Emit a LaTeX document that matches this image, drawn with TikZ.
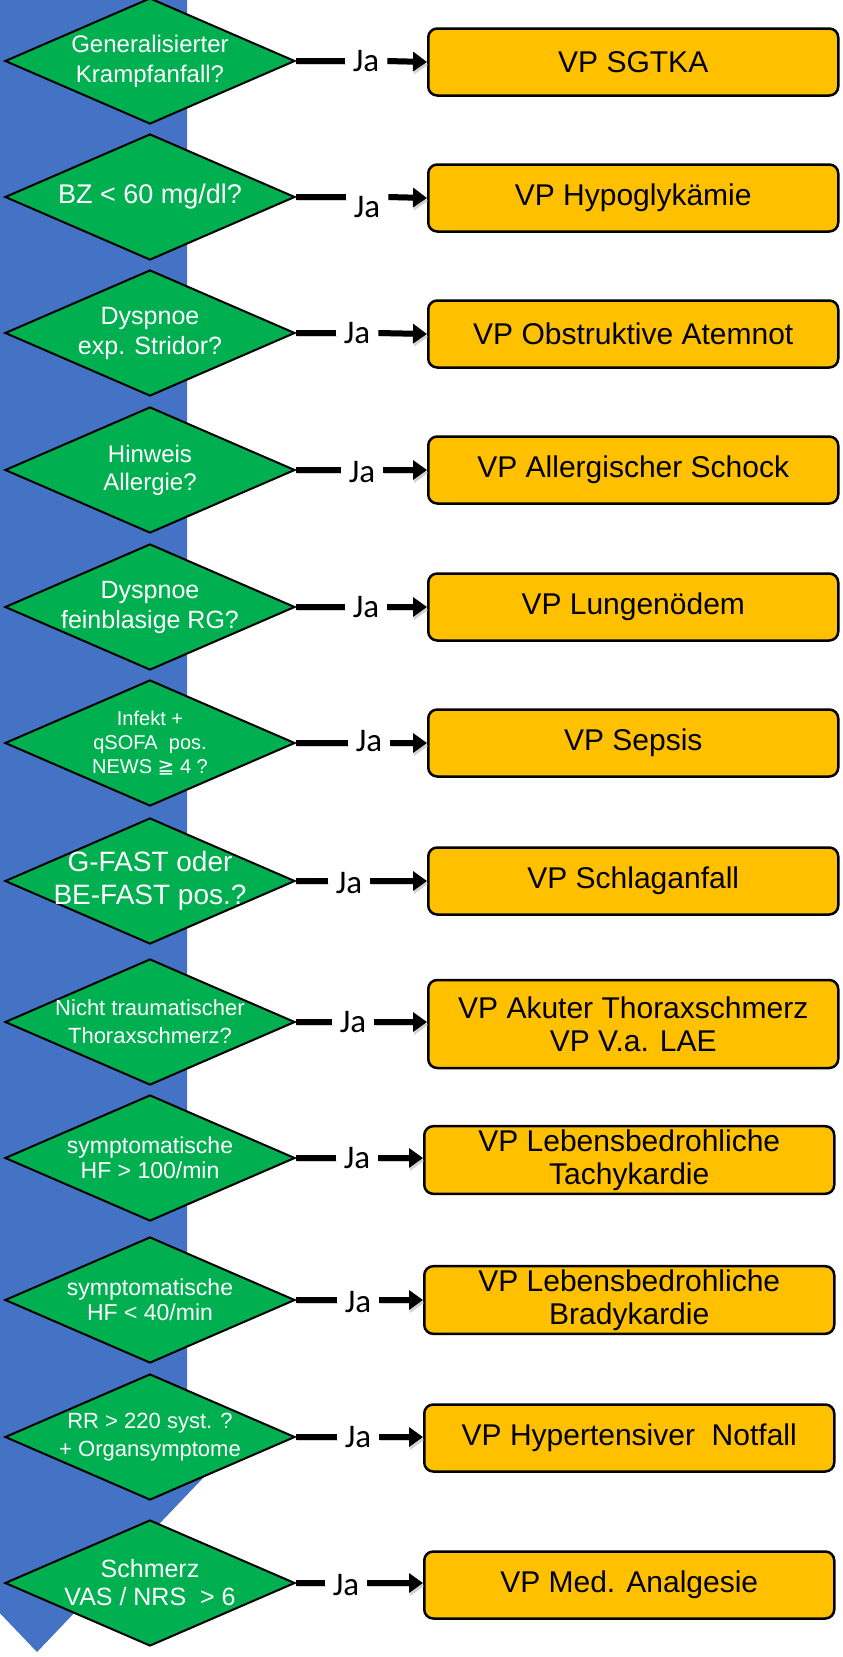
\documentclass[tikz,border=0pt]{standalone}
\usepackage{fontspec}
\setmainfont{Liberation Sans}
\newfontfamily\jafont{Carlito}
\newfontfamily\geqfont{DejaVu Sans}
\usetikzlibrary{positioning, shapes.geometric, arrows.meta}
\definecolor{bandblue}{HTML}{4472C4}
\definecolor{decgreen}{HTML}{00B050}
\definecolor{vpgold}{HTML}{FFC000}

\begin{document}
\begin{tikzpicture}[
        x=1pt, y=-1pt,
        % Styles
        band/.style={fill=bandblue},
        decision/.style={diamond, draw, line width=2pt, fill=decgreen, minimum width=290pt, minimum height=126pt, inner sep=0pt},
        dtext/.style={text=white, align=center, font=\fontsize{24}{29}\selectfont, inner sep=0pt},
        vp/.style={draw, line width=2.5pt, rounded corners=9pt, fill=vpgold, minimum width=410pt, minimum height=67pt, anchor=west, align=center, font=\fontsize{30}{33}\selectfont},
        ja/.style={font=\jafont\fontsize{33}{35}\selectfont, inner xsep=8pt, inner ysep=0pt},
        jaline/.style={line width=6pt, preaction={draw=black!18, transform canvas={shift={(1pt,-3pt)}}}},
        jaarrow/.style={line width=6pt, -{Triangle[length=14pt, width=19pt]}, preaction={draw=black!18, transform canvas={shift={(1pt,-3pt)}}}},
    ]
        \useasboundingbox (0,0) rectangle (843,1657);

        % === Big blue arrow down the left side ===
        \fill[band] (-113,-10) -- (187,-10) -- (187,1455) -- (225,1455) -- (37,1652)
            -- (-151,1455) -- (-113,1455) -- cycle;

        % === Decisions ===
        \node[decision, label={[dtext, font=\fontsize{24}{30}\selectfont]center:{Generalisierter\\Krampfanfall?}}] (d1) at (150,61) {};
        \node[decision, label={[dtext, font=\fontsize{27}{32}\selectfont]center:{BZ < 60 mg/dl?}}] (d2) at (150,197) {};
        \node[decision, label={[dtext, font=\fontsize{25}{30}\selectfont]center:{Dyspnoe\\exp. Stridor?}}] (d3) at (150,333) {};
        \node[decision, label={[dtext, font=\fontsize{24}{28}\selectfont]center:{Hinweis\\Allergie?}}] (d4) at (150,470) {};
        \node[decision, label={[dtext, font=\fontsize{25}{30}\selectfont]center:{Dyspnoe\\feinblasige RG?}}] (d5) at (150,607) {};
        \node[decision, label={[dtext, font=\fontsize{20}{24}\selectfont]center:{Infekt +\\qSOFA\ \ pos.\\NEWS {\geqfont ≧} 4 ?}}] (d6) at (150,743) {};
        \node[decision, label={[dtext, font=\fontsize{28}{33}\selectfont]center:{G-FAST oder\\BE-FAST pos.?}}] (d7) at (150,881) {};
        \node[decision, label={[dtext, font=\fontsize{22}{28}\selectfont]center:{Nicht traumatischer\\Thoraxschmerz?}}] (d8) at (150,1022) {};
        \node[decision, label={[dtext, font=\fontsize{23}{25}\selectfont]center:{symptomatische\\HF > 100/min}}] (d9) at (150,1158) {};
        \node[decision, label={[dtext, font=\fontsize{23}{25}\selectfont]center:{symptomatische\\HF < 40/min}}] (d10) at (150,1300) {};
        \node[decision, label={[dtext, font=\fontsize{22}{28}\selectfont]center:{RR > 220 syst. ?\\+ Organsymptome}}] (d11) at (150,1437) {};
        \node[decision, label={[dtext, font=\fontsize{25}{28}\selectfont]center:{Schmerz\\VAS / NRS\ \ > 6}}] (d12) at (150,1583) {};

        % === Procedures (VP) ===
        \node[vp] (vp1) at (427,62) {VP SGTKA};
        \node[vp] (vp2) at (427,198) {VP Hypoglykämie};
        \node[vp] (vp3) at (427,334) {VP Obstruktive Atemnot};
        \node[vp] (vp4) at (427,470) {VP Allergischer Schock};
        \node[vp] (vp5) at (427,607) {VP Lungenödem};
        \node[vp] (vp6) at (427,743) {VP Sepsis};
        \node[vp] (vp7) at (427,881) {VP Schlaganfall};
        \node[vp, minimum height=88pt] (vp8) at (427,1024) {VP Akuter Thoraxschmerz\\VP V.a. LAE};
        \node[vp] (vp9) at (423,1160) {VP Lebensbedrohliche\\Tachykardie};
        \node[vp] (vp10) at (423,1300) {VP Lebensbedrohliche\\Bradykardie};
        \node[vp] (vp11) at (423,1438) {VP Hypertensiver\ \ Notfall};
        \node[vp] (vp12) at (423,1585) {VP Med. Analgesie};

        % === Ja labels ===
        \node[ja] (ja1) at (366,61) {Ja};
        \node[ja] (ja2) at (367,207) {Ja};
        \node[ja] (ja3) at (357,333) {Ja};
        \node[ja] (ja4) at (362,472) {Ja};
        \node[ja] (ja5) at (366,607) {Ja};
        \node[ja] (ja6) at (369,741) {Ja};
        \node[ja] (ja7) at (349,883) {Ja};
        \node[ja] (ja8) at (353,1022) {Ja};
        \node[ja] (ja9) at (357,1158) {Ja};
        \node[ja] (ja10) at (358,1302) {Ja};
        \node[ja] (ja11) at (358,1437) {Ja};
        \node[ja] (ja12) at (346,1585) {Ja};

        % === Connectors ===
        \draw[jaline] (d1.east) -- (d1.east -| ja1.west);
        \draw[jaarrow] (ja1.east |- d1.east) -- (vp1.west);
        \draw[jaline] (d2.east) -- (d2.east -| ja2.west);
        \draw[jaarrow] (ja2.east |- d2.east) -- (vp2.west);
        \draw[jaline] (d3.east) -- (d3.east -| ja3.west);
        \draw[jaarrow] (ja3.east |- d3.east) -- (vp3.west);
        \draw[jaline] (d4.east) -- (d4.east -| ja4.west);
        \draw[jaarrow] (ja4.east |- d4.east) -- (vp4.west);
        \draw[jaline] (d5.east) -- (d5.east -| ja5.west);
        \draw[jaarrow] (ja5.east |- d5.east) -- (vp5.west);
        \draw[jaline] (d6.east) -- (d6.east -| ja6.west);
        \draw[jaarrow] (ja6.east |- d6.east) -- (vp6.west);
        \draw[jaline] (d7.east) -- (d7.east -| ja7.west);
        \draw[jaarrow] (ja7.east |- d7.east) -- (vp7.west);
        \draw[jaline] (d8.east) -- (d8.east -| ja8.west);
        \draw[jaarrow] (ja8.east |- d8.east) -- (vp8.west |- d8.east);
        \draw[jaline] (d9.east) -- (d9.east -| ja9.west);
        \draw[jaarrow] (ja9.east |- d9.east) -- (vp9.west |- d9.east);
        \draw[jaline] (d10.east) -- (d10.east -| ja10.west);
        \draw[jaarrow] (ja10.east |- d10.east) -- (vp10.west);
        \draw[jaline] (d11.east) -- (d11.east -| ja11.west);
        \draw[jaarrow] (ja11.east |- d11.east) -- (vp11.west |- d11.east);
        \draw[jaline] (d12.east) -- (d12.east -| ja12.west);
        \draw[jaarrow] (ja12.east |- d12.east) -- (vp12.west |- d12.east);
    \end{tikzpicture}
\end{document}
